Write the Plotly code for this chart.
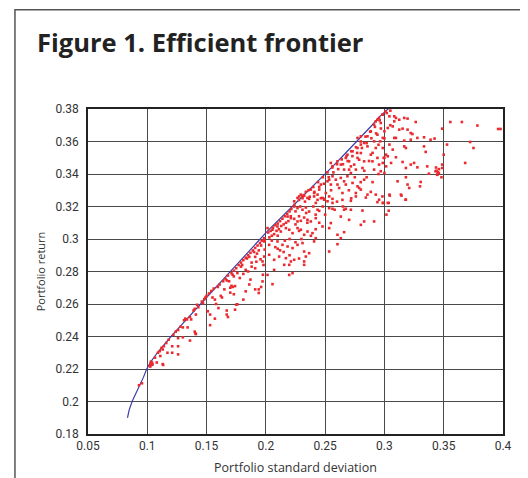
import plotly.graph_objects as go

# ---------------- data ----------------
frontier_return = [0.190, 0.195, 0.200, 0.205, 0.210, 0.215, 0.220, 0.225, 0.230, 0.235,
                   0.240, 0.245, 0.250, 0.255, 0.260, 0.265, 0.270, 0.275, 0.280, 0.285,
                   0.290, 0.295, 0.300, 0.305, 0.310, 0.315, 0.320, 0.325, 0.330, 0.335,
                   0.340, 0.345, 0.350, 0.355, 0.360, 0.365, 0.370, 0.375, 0.378, 0.380, 0.381]
frontier_sd = [0.0833, 0.0848, 0.0872, 0.0905, 0.0940, 0.0968, 0.0995, 0.1035, 0.1085, 0.1140,
               0.1200, 0.1262, 0.1323, 0.1385, 0.1450, 0.1512, 0.1575, 0.1638, 0.1700, 0.1763,
               0.1825, 0.1888, 0.1950, 0.2015, 0.2085, 0.2155, 0.2225, 0.2295, 0.2365, 0.2435,
               0.2500, 0.2568, 0.2635, 0.2702, 0.2768, 0.2833, 0.2895, 0.2955, 0.2995, 0.3030, 0.3080]

points_low = [
    (0.0930, 0.2100), (0.0955, 0.2112), (0.1022, 0.2222), (0.1028, 0.2232), (0.1035, 0.2225),
    (0.1040, 0.2240), (0.1025, 0.2215), (0.1045, 0.2228), (0.1030, 0.2245), (0.1130, 0.2230),
    (0.1134, 0.2225), (0.1080, 0.2240), (0.1110, 0.2280), (0.1130, 0.2320), (0.1170, 0.2300),
    (0.1210, 0.2340), (0.1260, 0.2340), (0.1260, 0.2290), (0.1210, 0.2300), (0.1065, 0.2270),
    (0.1090, 0.2300), (0.1105, 0.2310), (0.1120, 0.2330), (0.1140, 0.2340), (0.1160, 0.2360),
    (0.1180, 0.2380), (0.1220, 0.2410), (0.1240, 0.2430), (0.1260, 0.2440), (0.1280, 0.2460),
    (0.1260, 0.2390), (0.1300, 0.2395), (0.1360, 0.2375), (0.1300, 0.2456), (0.1340, 0.2456),
    (0.1400, 0.2430), (0.1410, 0.2415), (0.1405, 0.2420), (0.1310, 0.2500), (0.1320, 0.2510),
    (0.1335, 0.2505), (0.1360, 0.2520), (0.1370, 0.2505), (0.1410, 0.2535), (0.1400, 0.2570),
    (0.1430, 0.2580), (0.1390, 0.2560), (0.1420, 0.2595), (0.1510, 0.2555), (0.1530, 0.2535),
    (0.1570, 0.2510), (0.1530, 0.2470), (0.1600, 0.2575), (0.1670, 0.2560), (0.1670, 0.2535),
    (0.1680, 0.2520), (0.1740, 0.2565), (0.1750, 0.2596), (0.1760, 0.2598), (0.1570, 0.2627),
    (0.1630, 0.2640), (0.1700, 0.2670), (0.1730, 0.2660), (0.1810, 0.2627), (0.1830, 0.2678),
    (0.1910, 0.2690), (0.1940, 0.2668), (0.1960, 0.2705), (0.1460, 0.2615), (0.1480, 0.2630),
    (0.1500, 0.2650), (0.1520, 0.2665), (0.1540, 0.2680), (0.1560, 0.2695), (0.1470, 0.2605),
    (0.1490, 0.2640), (0.1700, 0.2700), (0.1720, 0.2705), (0.1710, 0.2712), (0.1650, 0.2690),
    (0.1620, 0.2650), (0.1580, 0.2600), (0.1550, 0.2640),
]

points_mid_left = [
    (0.1595, 0.2705), (0.1610, 0.2720), (0.1640, 0.2740), (0.1660, 0.2755), (0.1680, 0.2775),
    (0.1710, 0.2790), (0.1730, 0.2805), (0.1750, 0.2820), (0.1770, 0.2840), (0.1790, 0.2855),
    (0.1810, 0.2870), (0.1830, 0.2885), (0.1850, 0.2900), (0.1870, 0.2915), (0.1890, 0.2930),
    (0.1910, 0.2945), (0.1930, 0.2960), (0.1950, 0.2975), (0.1965, 0.2990), (0.1985, 0.3005),
    (0.1670, 0.2745), (0.1720, 0.2780), (0.1800, 0.2840), (0.1860, 0.2890), (0.1900, 0.2920),
    (0.1960, 0.2960), (0.1990, 0.2990), (0.1690, 0.2740), (0.1730, 0.2770), (0.1790, 0.2830),
    (0.1840, 0.2880), (0.1910, 0.2890), (0.1940, 0.2930), (0.1860, 0.2720), (0.1940, 0.2690),
    (0.1910, 0.2820), (0.1980, 0.2840), (0.1870, 0.2750), (0.1760, 0.2790), (0.1740, 0.2710),
    (0.1810, 0.2785), (0.1955, 0.2875), (0.1925, 0.2910), (0.1990, 0.2935), (0.1880, 0.2855),
    (0.1975, 0.2780), (0.1830, 0.2810), (0.1850, 0.2800), (0.1880, 0.2830), (0.1920, 0.2860),
    (0.1780, 0.2760),
]

points_mid = [
    (0.2281, 0.3262), (0.2309, 0.3251), (0.2323, 0.3266), (0.2365, 0.3247), (0.2407, 0.3262),
    (0.2436, 0.3241), (0.2464, 0.3251), (0.2492, 0.3247), (0.2534, 0.3262), (0.2562, 0.3247),
    (0.2646, 0.3241), (0.2717, 0.3235), (0.2759, 0.3262), (0.2843, 0.3255), (0.2941, 0.3227),
    (0.2983, 0.3262), (0.2239, 0.3200), (0.2267, 0.3190), (0.2309, 0.3180), (0.2337, 0.3194),
    (0.2365, 0.3169), (0.2436, 0.3180), (0.2450, 0.3173), (0.2534, 0.3190), (0.2562, 0.3186),
    (0.2660, 0.3180), (0.2674, 0.3186), (0.2717, 0.3180), (0.2815, 0.3175), (0.2183, 0.3138),
    (0.2211, 0.3128), (0.2239, 0.3124), (0.2267, 0.3108), (0.2295, 0.3112), (0.2323, 0.3132),
    (0.2351, 0.3118), (0.2379, 0.3108), (0.2421, 0.3128), (0.2548, 0.3098), (0.2632, 0.3138),
    (0.2702, 0.3118), (0.2801, 0.3087), (0.2829, 0.3108), (0.2913, 0.3108), (0.2014, 0.3067),
    (0.2056, 0.3057), (0.2098, 0.3077), (0.2126, 0.3046), (0.2169, 0.3067), (0.2197, 0.3057),
    (0.2225, 0.3036), (0.2267, 0.3067), (0.2295, 0.3057), (0.2323, 0.3026), (0.2351, 0.3046),
    (0.2393, 0.3036), (0.2421, 0.3005), (0.2478, 0.3077), (0.2534, 0.3067), (0.2604, 0.3026),
    (0.2632, 0.3005), (0.2660, 0.3042), (0.1986, 0.2985), (0.2028, 0.2964), (0.2098, 0.2985),
    (0.2140, 0.2964), (0.2183, 0.2954), (0.2225, 0.2944), (0.2267, 0.2964), (0.2309, 0.2975),
    (0.2323, 0.2923), (0.2365, 0.2913), (0.2407, 0.2985), (0.2534, 0.2923), (0.2604, 0.2968),
    (0.1986, 0.2892), (0.2028, 0.2903), (0.2070, 0.2872), (0.2112, 0.2892), (0.2169, 0.2882),
    (0.2211, 0.2862), (0.2239, 0.2872), (0.2323, 0.2862), (0.2337, 0.2892), (0.1972, 0.2862),
    (0.2070, 0.2810), (0.2155, 0.2841), (0.2197, 0.2841), (0.2323, 0.2841), (0.2014, 0.2779),
    (0.2056, 0.2722), (0.2197, 0.2779), (0.2225, 0.2790), (0.1972, 0.2739), (0.2020, 0.3040),
    (0.2040, 0.3050), (0.2060, 0.3070), (0.2080, 0.3085), (0.2100, 0.3095), (0.2120, 0.3110),
    (0.2140, 0.3125), (0.2160, 0.3140), (0.2180, 0.3155), (0.2200, 0.3170), (0.2215, 0.3185),
    (0.2030, 0.3010), (0.2070, 0.3030), (0.2110, 0.3060), (0.2150, 0.3090), (0.2190, 0.3110),
    (0.2050, 0.2990), (0.2100, 0.3020), (0.2080, 0.2950), (0.2120, 0.2930), (0.2160, 0.2990),
    (0.2200, 0.3000), (0.2250, 0.3090), (0.2280, 0.3140), (0.2340, 0.3160), (0.2400, 0.3200),
    (0.2050, 0.3020), (0.2090, 0.3050), (0.2130, 0.3080), (0.2170, 0.3100), (0.2210, 0.3140),
    (0.2250, 0.3170), (0.2290, 0.3200), (0.2280, 0.3050), (0.2350, 0.3100), (0.2420, 0.3150),
    (0.2480, 0.3200), (0.2450, 0.3100), (0.2500, 0.3150), (0.2580, 0.3180), (0.2650, 0.3200),
    (0.2100, 0.2940), (0.2150, 0.2920), (0.2250, 0.2980), (0.2300, 0.3000), (0.2380, 0.3020),
    (0.2420, 0.3060), (0.2200, 0.2900), (0.2280, 0.2880),
]

points_upper = [
    (0.2239, 0.3232), (0.2267, 0.3253), (0.2295, 0.3273), (0.2309, 0.3263), (0.2337, 0.3290),
    (0.2379, 0.3304), (0.2407, 0.3283), (0.2436, 0.3273), (0.2450, 0.3304), (0.2464, 0.3335),
    (0.2478, 0.3253), (0.2492, 0.3242), (0.2506, 0.3283), (0.2520, 0.3355), (0.2534, 0.3365),
    (0.2548, 0.3335), (0.2562, 0.3386), (0.2590, 0.3365), (0.2604, 0.3335), (0.2618, 0.3314),
    (0.2632, 0.3376), (0.2646, 0.3283), (0.2660, 0.3355), (0.2674, 0.3335), (0.2688, 0.3386),
    (0.2702, 0.3427), (0.2717, 0.3406), (0.2731, 0.3345), (0.2759, 0.3283), (0.2773, 0.3324),
    (0.2787, 0.3314), (0.2801, 0.3304), (0.2829, 0.3365), (0.2857, 0.3273), (0.2885, 0.3290),
    (0.2927, 0.3273), (0.2955, 0.3242), (0.2520, 0.3232), (0.2562, 0.3222), (0.2351, 0.3253),
    (0.2421, 0.3222), (0.2548, 0.3468), (0.2562, 0.3447), (0.2604, 0.3478), (0.2632, 0.3458),
    (0.2674, 0.3499), (0.2688, 0.3519), (0.2702, 0.3478), (0.2717, 0.3447), (0.2745, 0.3458),
    (0.2759, 0.3427), (0.2773, 0.3499), (0.2787, 0.3488), (0.2801, 0.3529), (0.2815, 0.3437),
    (0.2829, 0.3478), (0.2857, 0.3570), (0.2885, 0.3519), (0.2899, 0.3478), (0.2913, 0.3427),
    (0.2927, 0.3560), (0.2941, 0.3499), (0.2955, 0.3458), (0.2969, 0.3417), (0.2660, 0.3427),
    (0.2731, 0.3540), (0.2773, 0.3622), (0.2801, 0.3632), (0.2829, 0.3591), (0.2857, 0.3632),
    (0.2885, 0.3663), (0.2913, 0.3704), (0.2927, 0.3724), (0.2941, 0.3734), (0.2955, 0.3745),
    (0.2969, 0.3714), (0.2983, 0.3765), (0.2964, 0.3601), (0.2773, 0.3560), (0.2941, 0.3642),
    (0.2913, 0.3601), (0.2801, 0.3581), (0.2240, 0.3210), (0.2280, 0.3240), (0.2320, 0.3270),
    (0.2360, 0.3300), (0.2400, 0.3320), (0.2440, 0.3350), (0.2480, 0.3380), (0.2520, 0.3410),
    (0.2560, 0.3440), (0.2600, 0.3460), (0.2640, 0.3490), (0.2680, 0.3510), (0.2720, 0.3540),
    (0.2760, 0.3565), (0.2800, 0.3600), (0.2840, 0.3630), (0.2880, 0.3660), (0.2920, 0.3690),
    (0.2960, 0.3730), (0.3008, 0.3785), (0.3020, 0.3775), (0.3050, 0.3790),
    (0.2330, 0.3230), (0.2370, 0.3260), (0.2410, 0.3290), (0.2450, 0.3320), (0.2490, 0.3340),
    (0.2530, 0.3380), (0.2570, 0.3410), (0.2610, 0.3430), (0.2650, 0.3460), (0.2690, 0.3480),
    (0.2730, 0.3510), (0.2770, 0.3530), (0.2810, 0.3560), (0.2850, 0.3590), (0.2890, 0.3620),
    (0.2930, 0.3650), (0.2970, 0.3680), (0.2550, 0.3300), (0.2600, 0.3230), (0.2700, 0.3300),
    (0.2750, 0.3380), (0.2830, 0.3420), (0.2870, 0.3480), (0.2900, 0.3530), (0.2950, 0.3580),
    (0.2720, 0.3250), (0.2800, 0.3350), (0.2850, 0.3380), (0.2900, 0.3350), (0.2950, 0.3400),
]

points_right = [
    (0.2986, 0.3765), (0.3042, 0.3755), (0.3083, 0.3755), (0.3097, 0.3745), (0.3125, 0.3734),
    (0.3167, 0.3745), (0.3195, 0.3741), (0.3083, 0.3724), (0.3028, 0.3683), (0.3070, 0.3693),
    (0.3125, 0.3673), (0.3153, 0.3679), (0.3195, 0.3673), (0.3264, 0.3720), (0.3000, 0.3663),
    (0.3222, 0.3652), (0.3236, 0.3646), (0.2986, 0.3622), (0.3083, 0.3622), (0.3097, 0.3622),
    (0.3167, 0.3605), (0.3222, 0.3611), (0.3278, 0.3622), (0.3334, 0.3626), (0.3389, 0.3611),
    (0.3423, 0.3618), (0.3042, 0.3581), (0.3167, 0.3570), (0.3181, 0.3560), (0.3334, 0.3570),
    (0.3348, 0.3536), (0.3014, 0.3519), (0.3070, 0.3550), (0.3097, 0.3503), (0.2986, 0.3468),
    (0.3014, 0.3447), (0.3153, 0.3474), (0.3181, 0.3437), (0.3222, 0.3458), (0.3278, 0.3441),
    (0.3361, 0.3447), (0.3487, 0.3458), (0.3487, 0.3437), (0.3500, 0.3519), (0.3528, 0.3581),
    (0.3487, 0.3679), (0.3556, 0.3720), (0.3653, 0.3720), (0.3784, 0.3698), (0.3959, 0.3677),
    (0.3979, 0.3677), (0.3723, 0.3597), (0.3751, 0.3560), (0.3681, 0.3468), (0.3431, 0.3417),
    (0.3445, 0.3396), (0.3459, 0.3406), (0.3375, 0.3402), (0.3481, 0.3380), (0.3111, 0.3355),
    (0.3181, 0.3380), (0.3195, 0.3335), (0.3209, 0.3314), (0.3306, 0.3351), (0.3300, 0.3324),
    (0.3000, 0.3406), (0.3042, 0.3273), (0.3139, 0.3273), (0.3181, 0.3242), (0.2986, 0.3222),
    (0.3028, 0.3222), (0.2986, 0.3560), (0.2994, 0.3499), (0.3028, 0.3509), (0.3056, 0.3468),
    (0.3250, 0.3468), (0.3440, 0.3420), (0.3450, 0.3410), (0.3445, 0.3395), (0.3460, 0.3430),
    (0.3435, 0.3440), (0.2989, 0.3222), (0.3036, 0.3222), (0.3036, 0.3174), (0.3017, 0.3150),
    (0.3045, 0.3267), (0.3144, 0.3267), (0.3178, 0.3242), (0.3000, 0.3620), (0.3050, 0.3700),
    (0.3000, 0.3500),
]

x_ticks = [0.05, 0.1, 0.15, 0.2, 0.25, 0.3, 0.35, 0.4]
x_tick_labels = ["0.05", "0.1", "0.15", "0.2", "0.25", "0.3", "0.35", "0.4"]
y_ticks = [0.18, 0.2, 0.22, 0.24, 0.26, 0.28, 0.3, 0.32, 0.34, 0.36, 0.38]
y_tick_labels = ["0.18", "0.2", "0.22", "0.24", "0.26", "0.28", "0.3", "0.32", "0.34", "0.36", "0.38"]

all_points = points_low + points_mid_left + points_mid + points_upper + points_right
portfolio_sd = [p[0] for p in all_points]
portfolio_return = [p[1] for p in all_points]

# ---------------- figure ----------------
fig = go.Figure()

fig.add_trace(go.Scatter(
    x=frontier_sd, y=frontier_return, mode="lines",
    line=dict(color="#3b3fa6", width=1.2), hoverinfo="skip", showlegend=False,
))
fig.add_trace(go.Scatter(
    x=portfolio_sd, y=portfolio_return, mode="markers",
    marker=dict(symbol="square", size=2.6, color="#ea2a2f", line=dict(width=0)),
    showlegend=False,
))

axis_common = dict(
    showgrid=True, gridcolor="#4a4a4a", gridwidth=1.2,
    showline=True, linecolor="#222222", linewidth=1.5, mirror=True,
    ticks="", zeroline=False,
    tickfont=dict(family="Roboto, Arial, sans-serif", size=12, color="#333333"),
)

fig.update_xaxes(
    range=[0.05, 0.4], tickvals=x_ticks, ticktext=x_tick_labels,
    title=dict(text="Portfolio standard deviation",
               font=dict(family="Open Sans, sans-serif", size=12.5, color="#333333"),
               standoff=11),
    **axis_common,
)
fig.update_yaxes(
    range=[0.18, 0.38], tickvals=y_ticks, ticktext=y_tick_labels,
    ticklabelstandoff=5,
    title=dict(text="Portfolio return",
               font=dict(family="Open Sans, sans-serif", size=11, color="#333333"),
               standoff=8),
    **axis_common,
)

# The page body adds an 8px offset; margins are chosen so the plot area
# lands at the reference pixel position.
fig.update_layout(
    width=528, height=478,
    margin=dict(l=80, r=33, t=101, b=52, autoexpand=False),
    paper_bgcolor="white", plot_bgcolor="white",
    title=dict(text="<b>Figure 1. Efficient frontier</b>",
               font=dict(family="Open Sans, sans-serif", size=25.5, color="#222222"),
               x=0.055, xanchor="left", y=0.926, yanchor="middle"),
    shapes=[dict(type="rect", xref="paper", yref="paper",
                 x0=-0.176, x1=1.0434, y0=-0.16, y1=1.3055,
                 line=dict(color="#555555", width=1.5), layer="below")],
)

fig.write_html("out.html")
